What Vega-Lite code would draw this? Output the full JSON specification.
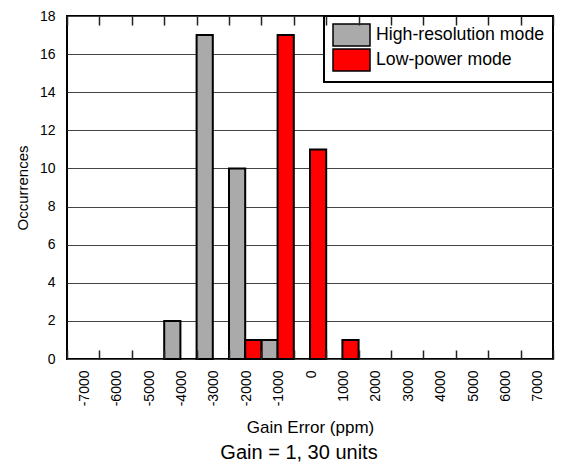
{
  "$schema": "https://vega.github.io/schema/vega-lite/v6.json",
  "width": 486,
  "height": 343,
  "autosize": {"type": "none"},
  "padding": {"left": 67, "top": 16, "right": 26, "bottom": 109},
  "background": "white",
  "title": {"text": "Gain = 1, 30 units", "orient": "bottom", "fontSize": 20, "fontWeight": "normal", "font": "Liberation Sans", "color": "black", "offset": 7, "dx": -11},
  "data": {"values": [
    {"bin": -4000, "mode": "High-resolution mode", "count": 2},
    {"bin": -3000, "mode": "High-resolution mode", "count": 17},
    {"bin": -2000, "mode": "High-resolution mode", "count": 10},
    {"bin": -1000, "mode": "High-resolution mode", "count": 1},
    {"bin": -2000, "mode": "Low-power mode", "count": 1},
    {"bin": -1000, "mode": "Low-power mode", "count": 17},
    {"bin": 0, "mode": "Low-power mode", "count": 11},
    {"bin": 1000, "mode": "Low-power mode", "count": 1}
  ]},
  "layer": [
    {
      "mark": {"type": "bar", "stroke": "black", "strokeWidth": 2, "strokeJoin": "miter"},
      "encoding": {
        "x": {
          "field": "bin", "type": "ordinal",
          "scale": {"domain": [-7000, -6000, -5000, -4000, -3000, -2000, -1000, 0, 1000, 2000, 3000, 4000, 5000, 6000, 7000], "paddingInner": 0, "paddingOuter": 0},
          "axis": {"orient": "bottom", "offset": -9, "title": "Gain Error (ppm)", "labelAngle": -90, "tickBand": "extent", "ticks": true, "tickSize": 9, "tickColor": "#222222", "tickWidth": 1.5, "labelPadding": 11, "labelOffset": 1, "domain": false, "grid": false, "labelFontSize": 14, "titleFontSize": 17, "titlePadding": 14, "zindex": 1}
        },
        "xOffset": {"field": "mode", "type": "nominal", "scale": {"domain": ["High-resolution mode", "Low-power mode"], "paddingInner": 0, "paddingOuter": 0}},
        "y": {
          "field": "count", "type": "quantitative",
          "scale": {"domain": [0, 18], "nice": false},
          "axis": {"title": "Occurrences", "values": [0, 2, 4, 6, 8, 10, 12, 14, 16, 18], "grid": true, "gridColor": "#444444", "gridWidth": 1, "ticks": false, "domain": false, "labelPadding": 12, "labelFontSize": 14, "titleFontSize": 15, "titlePadding": 9}
        },
        "color": {
          "field": "mode", "type": "nominal",
          "scale": {"domain": ["High-resolution mode", "Low-power mode"], "range": ["#aaaaaa", "#ff0000"]},
          "legend": {"title": null, "orient": "top-right", "offset": 0, "symbolType": "M-1,-1.1H2.7V1.1H-1Z", "symbolSize": 400, "symbolStrokeColor": "black", "symbolStrokeWidth": 1.5, "symbolOpacity": 1, "labelFontSize": 17.7, "labelColor": "black", "labelFont": "Liberation Sans", "labelOffset": 22, "rowPadding": -7, "padding": 8, "strokeColor": "black", "fillColor": "white", "labelLimit": 300}
        }
      }
    },
    {
      "mark": {"type": "bar", "opacity": 0},
      "encoding": {
        "x": {
          "field": "bin", "type": "ordinal",
          "axis": {"orient": "top", "offset": -9, "labels": false, "title": null, "tickBand": "extent", "ticks": true, "tickSize": 9, "tickColor": "#222222", "tickWidth": 1.5, "domain": false, "grid": false, "zindex": 1}
        }
      }
    }
  ],
  "resolve": {"axis": {"x": "independent"}},
  "config": {
    "font": "Liberation Sans",
    "view": {"stroke": "black", "strokeWidth": 2},
    "legend": {"strokeWidth": 2},
    "axis": {"labelColor": "black", "titleColor": "black", "labelFont": "Liberation Sans", "titleFont": "Liberation Sans", "titleFontWeight": "normal"}
  }
}
